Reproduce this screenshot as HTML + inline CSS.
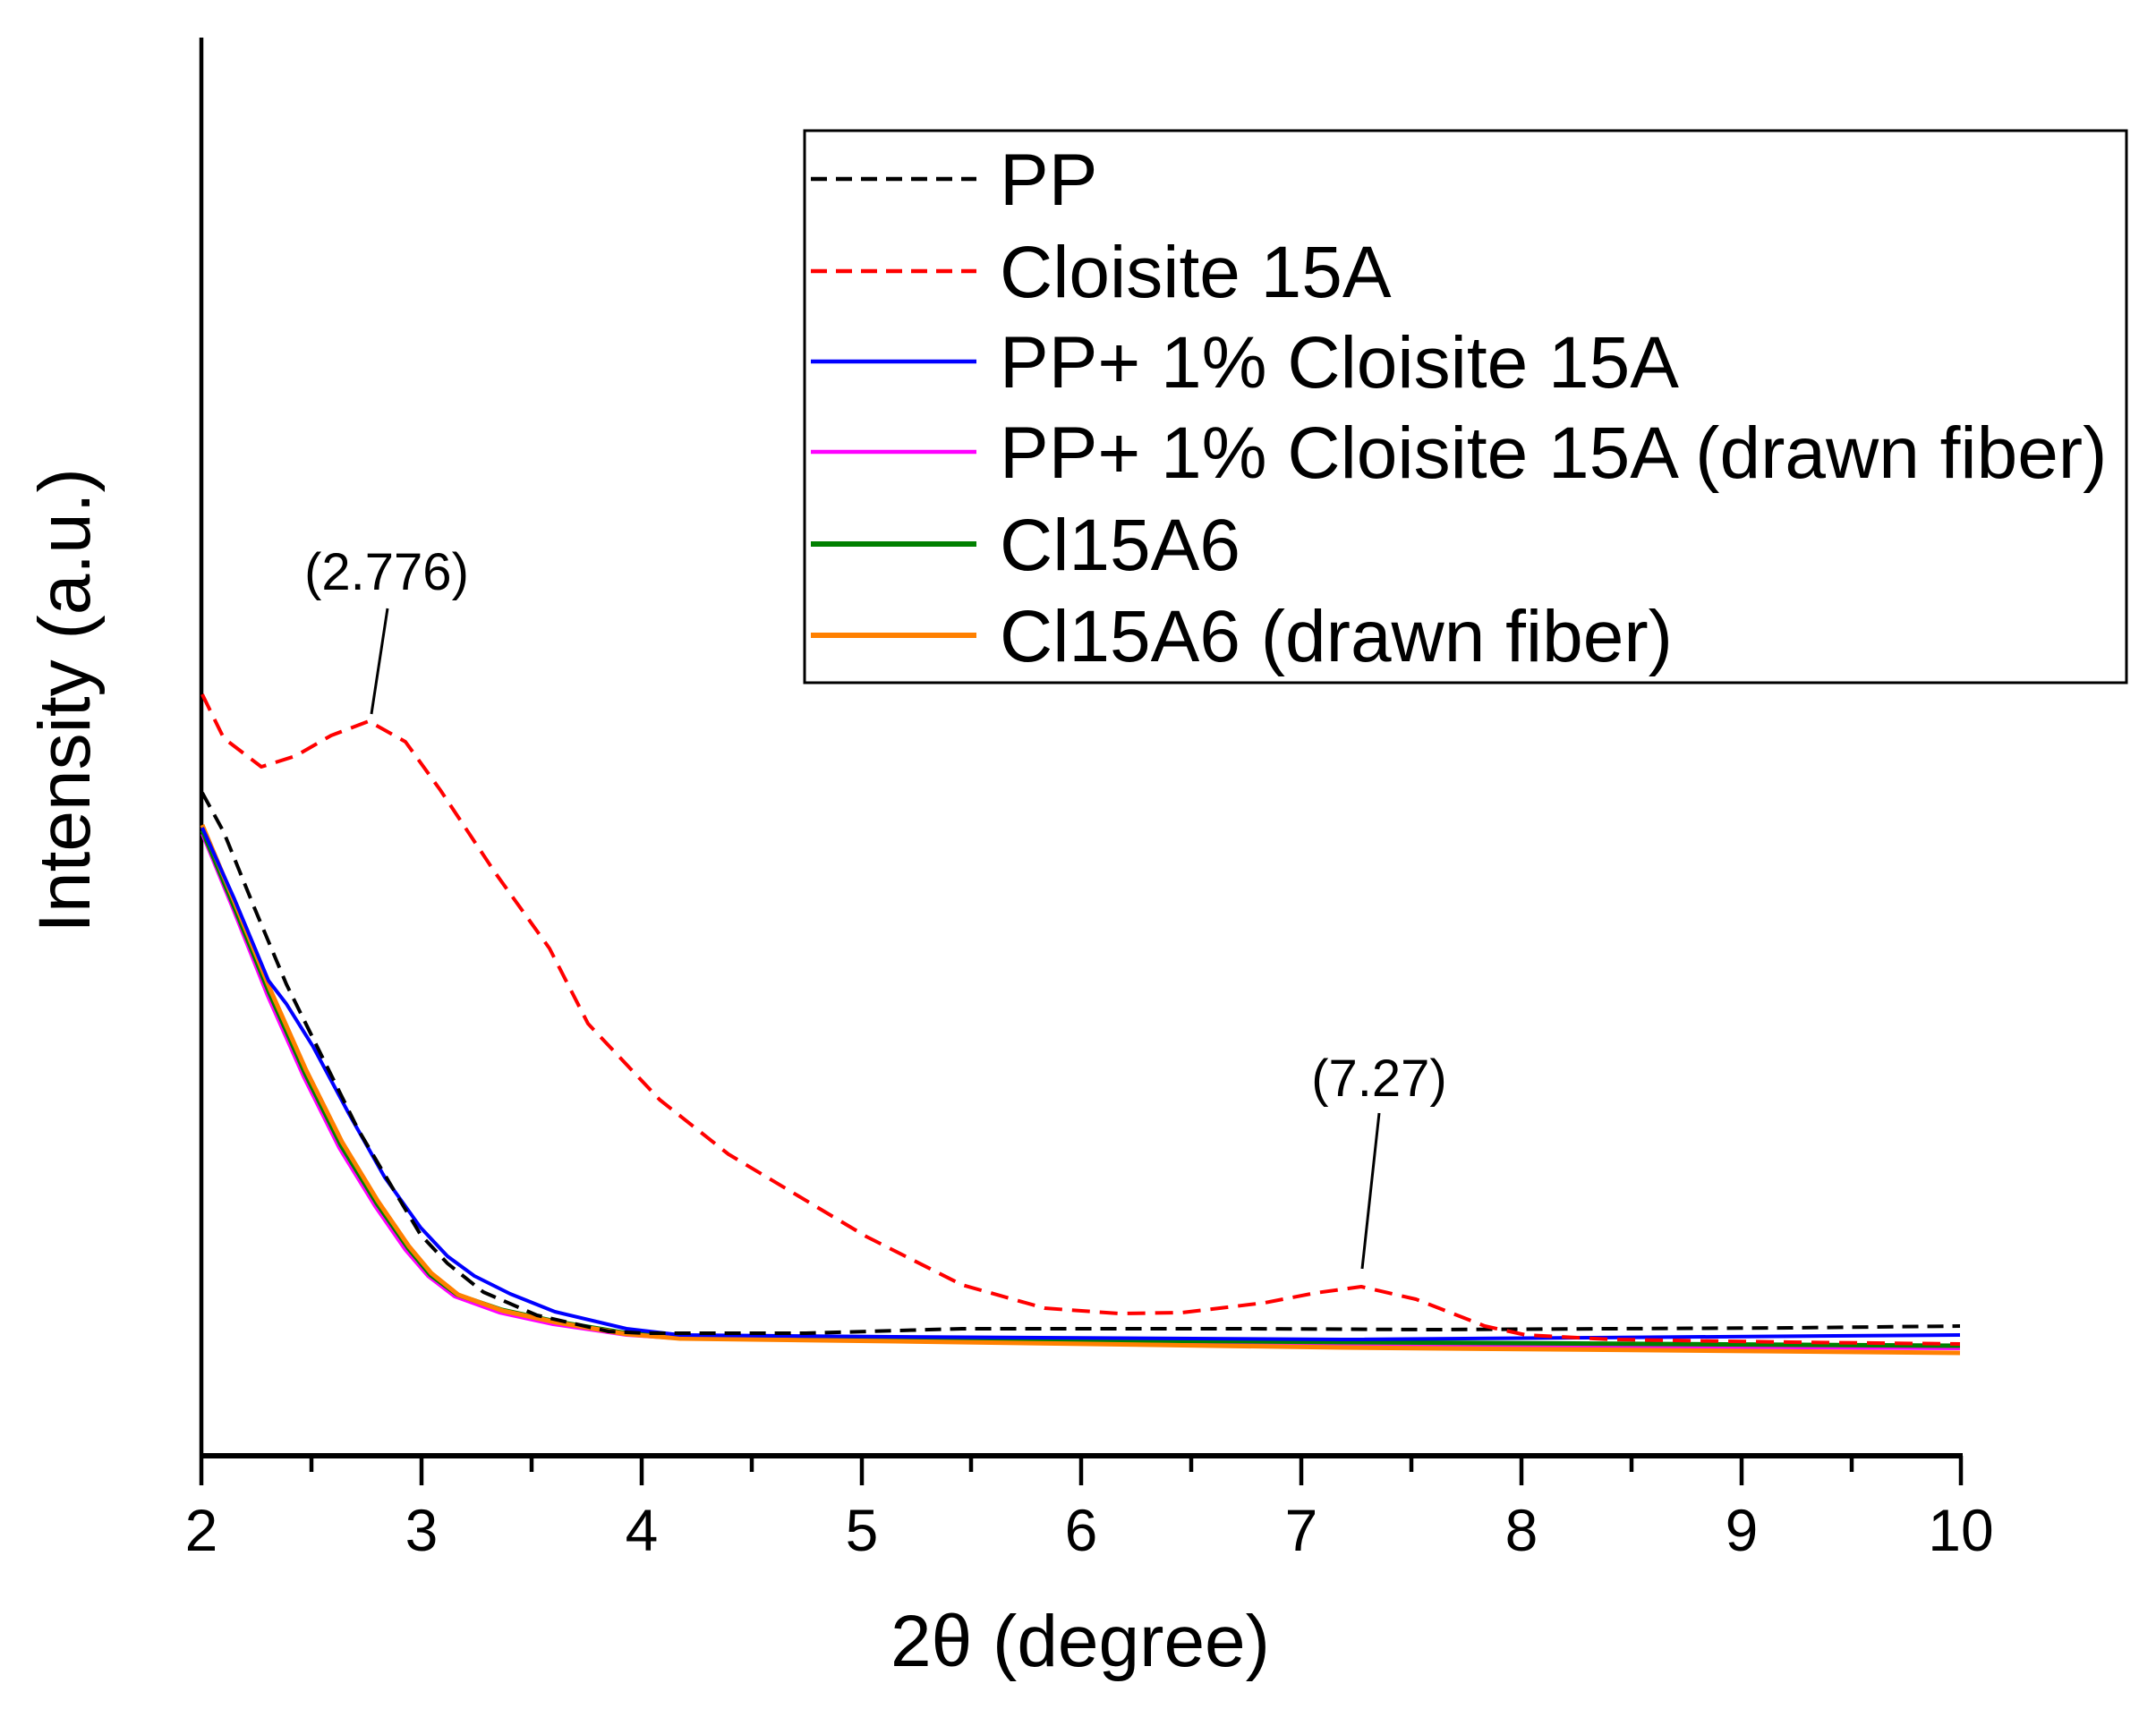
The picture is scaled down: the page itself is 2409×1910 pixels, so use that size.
<!DOCTYPE html>
<html><head><meta charset="utf-8"><style>
html,body{margin:0;padding:0;background:#fff;}
svg{display:block;}
text{font-family:"Liberation Sans",Arial,sans-serif;fill:#000;}
</style></head><body>
<svg width="2409" height="1910" viewBox="0 0 2409 1910" xmlns="http://www.w3.org/2000/svg">
<rect width="2409" height="1910" fill="#fff"/>
<!-- axes -->
<line x1="225" y1="42" x2="225" y2="1627" stroke="#000" stroke-width="4.5"/>
<line x1="223" y1="1627" x2="2193" y2="1627" stroke="#000" stroke-width="6"/>
<g stroke="#000" stroke-width="4.5">
<line x1="225" y1="1627" x2="225" y2="1660"/>
<line x1="471" y1="1627" x2="471" y2="1660"/>
<line x1="717" y1="1627" x2="717" y2="1660"/>
<line x1="963" y1="1627" x2="963" y2="1660"/>
<line x1="1208" y1="1627" x2="1208" y2="1660"/>
<line x1="1454" y1="1627" x2="1454" y2="1660"/>
<line x1="1700" y1="1627" x2="1700" y2="1660"/>
<line x1="1946" y1="1627" x2="1946" y2="1660"/>
<line x1="2191" y1="1627" x2="2191" y2="1660"/>
<line x1="348" y1="1627" x2="348" y2="1645"/>
<line x1="594" y1="1627" x2="594" y2="1645"/>
<line x1="840" y1="1627" x2="840" y2="1645"/>
<line x1="1085" y1="1627" x2="1085" y2="1645"/>
<line x1="1331" y1="1627" x2="1331" y2="1645"/>
<line x1="1577" y1="1627" x2="1577" y2="1645"/>
<line x1="1823" y1="1627" x2="1823" y2="1645"/>
<line x1="2069" y1="1627" x2="2069" y2="1645"/>
</g>
<g font-size="66" text-anchor="middle">
<text x="225" y="1733">2</text><text x="471" y="1733">3</text><text x="717" y="1733">4</text>
<text x="963" y="1733">5</text><text x="1208" y="1733">6</text><text x="1454" y="1733">7</text>
<text x="1700" y="1733">8</text><text x="1946" y="1733">9</text><text x="2191" y="1733">10</text>
</g>
<text x="1207" y="1862" font-size="82" text-anchor="middle">2θ (degree)</text>
<text transform="translate(100,783) rotate(-90)" font-size="82" text-anchor="middle">Intensity (a.u.)</text>

<!-- series -->
<g fill="none" stroke-linejoin="round">
<polyline stroke="#ff00ff" stroke-width="4" points="226,932 260,1015 299,1113 339,1203 379,1283 419,1348 453,1397 478,1426 508,1449 558,1467 618,1480 700,1492 760,1496 1000,1498 1500,1503 2190,1507"/>
<polyline stroke="#008000" stroke-width="5" points="226,928 261,1012 301,1110 341,1200 381,1280 421,1345 456,1395 481,1425 511,1447 561,1464 621,1477 700,1490 760,1494 1000,1496 1500,1500 2190,1504"/>
<polyline stroke="#ff8000" stroke-width="5" points="226,922 262,1008 302,1106 342,1196 382,1276 422,1342 457,1393 482,1423 512,1447 562,1465 622,1478 700,1491 760,1496 1000,1499 1500,1506 2190,1512"/>
<polyline stroke="#0000ff" stroke-width="4" points="226,925 262,1005 300,1096 320,1122 350,1170 390,1245 430,1316 470,1372 500,1404 530,1426 570,1446 620,1466 700,1485 760,1492 1000,1494 1500,1497 2190,1492"/>
<polyline stroke="#000" stroke-width="4" stroke-dasharray="18,10" points="226,886 250,930 284,1014 320,1100 353,1167 400,1262 440,1330 470,1380 500,1412 540,1444 600,1470 680,1488 722,1490 900,1490 1075,1485 1400,1485 1600,1486 1800,1485 2000,1484 2190,1482"/>
<polyline stroke="#ff0000" stroke-width="4" stroke-dasharray="20,11" points="226,776 250,825 292,857 330,845 370,822 412,806 453,829 492,883 553,975 614,1060 657,1144 737,1229 814,1290 891,1336 968,1382 1075,1436 1167,1462 1250,1468 1321,1467 1413,1456 1470,1445 1521,1438 1582,1452 1659,1482 1705,1492 1800,1497 2000,1500 2190,1502"/>
</g>

<!-- annotations -->
<text x="432" y="659" font-size="58" text-anchor="middle">(2.776)</text>
<line x1="433" y1="680" x2="415" y2="798" stroke="#000" stroke-width="3"/>
<text x="1541" y="1225" font-size="58" text-anchor="middle">(7.27)</text>
<line x1="1541" y1="1244" x2="1522" y2="1418" stroke="#000" stroke-width="3"/>

<!-- legend -->
<rect x="899" y="146" width="1477" height="617" fill="#fff" stroke="#000" stroke-width="3"/>
<g stroke-width="4.5">
<line x1="906" y1="200" x2="1091" y2="200" stroke="#000" stroke-dasharray="18,10"/>
<line x1="906" y1="303" x2="1091" y2="303" stroke="#ff0000" stroke-dasharray="18,10"/>
<line x1="906" y1="404" x2="1091" y2="404" stroke="#0000ff"/>
<line x1="906" y1="505" x2="1091" y2="505" stroke="#ff00ff"/>
<line x1="906" y1="608" x2="1091" y2="608" stroke="#008000" stroke-width="6"/>
<line x1="906" y1="710" x2="1091" y2="710" stroke="#ff8000" stroke-width="6"/>
</g>
<g font-size="82">
<text x="1117" y="229">PP</text>
<text x="1117" y="332">Cloisite 15A</text>
<text x="1117" y="433">PP+ 1% Cloisite 15A</text>
<text x="1117" y="534">PP+ 1% Cloisite 15A (drawn fiber)</text>
<text x="1117" y="637">Cl15A6</text>
<text x="1117" y="739">Cl15A6 (drawn fiber)</text>
</g>
</svg>
</body></html>
